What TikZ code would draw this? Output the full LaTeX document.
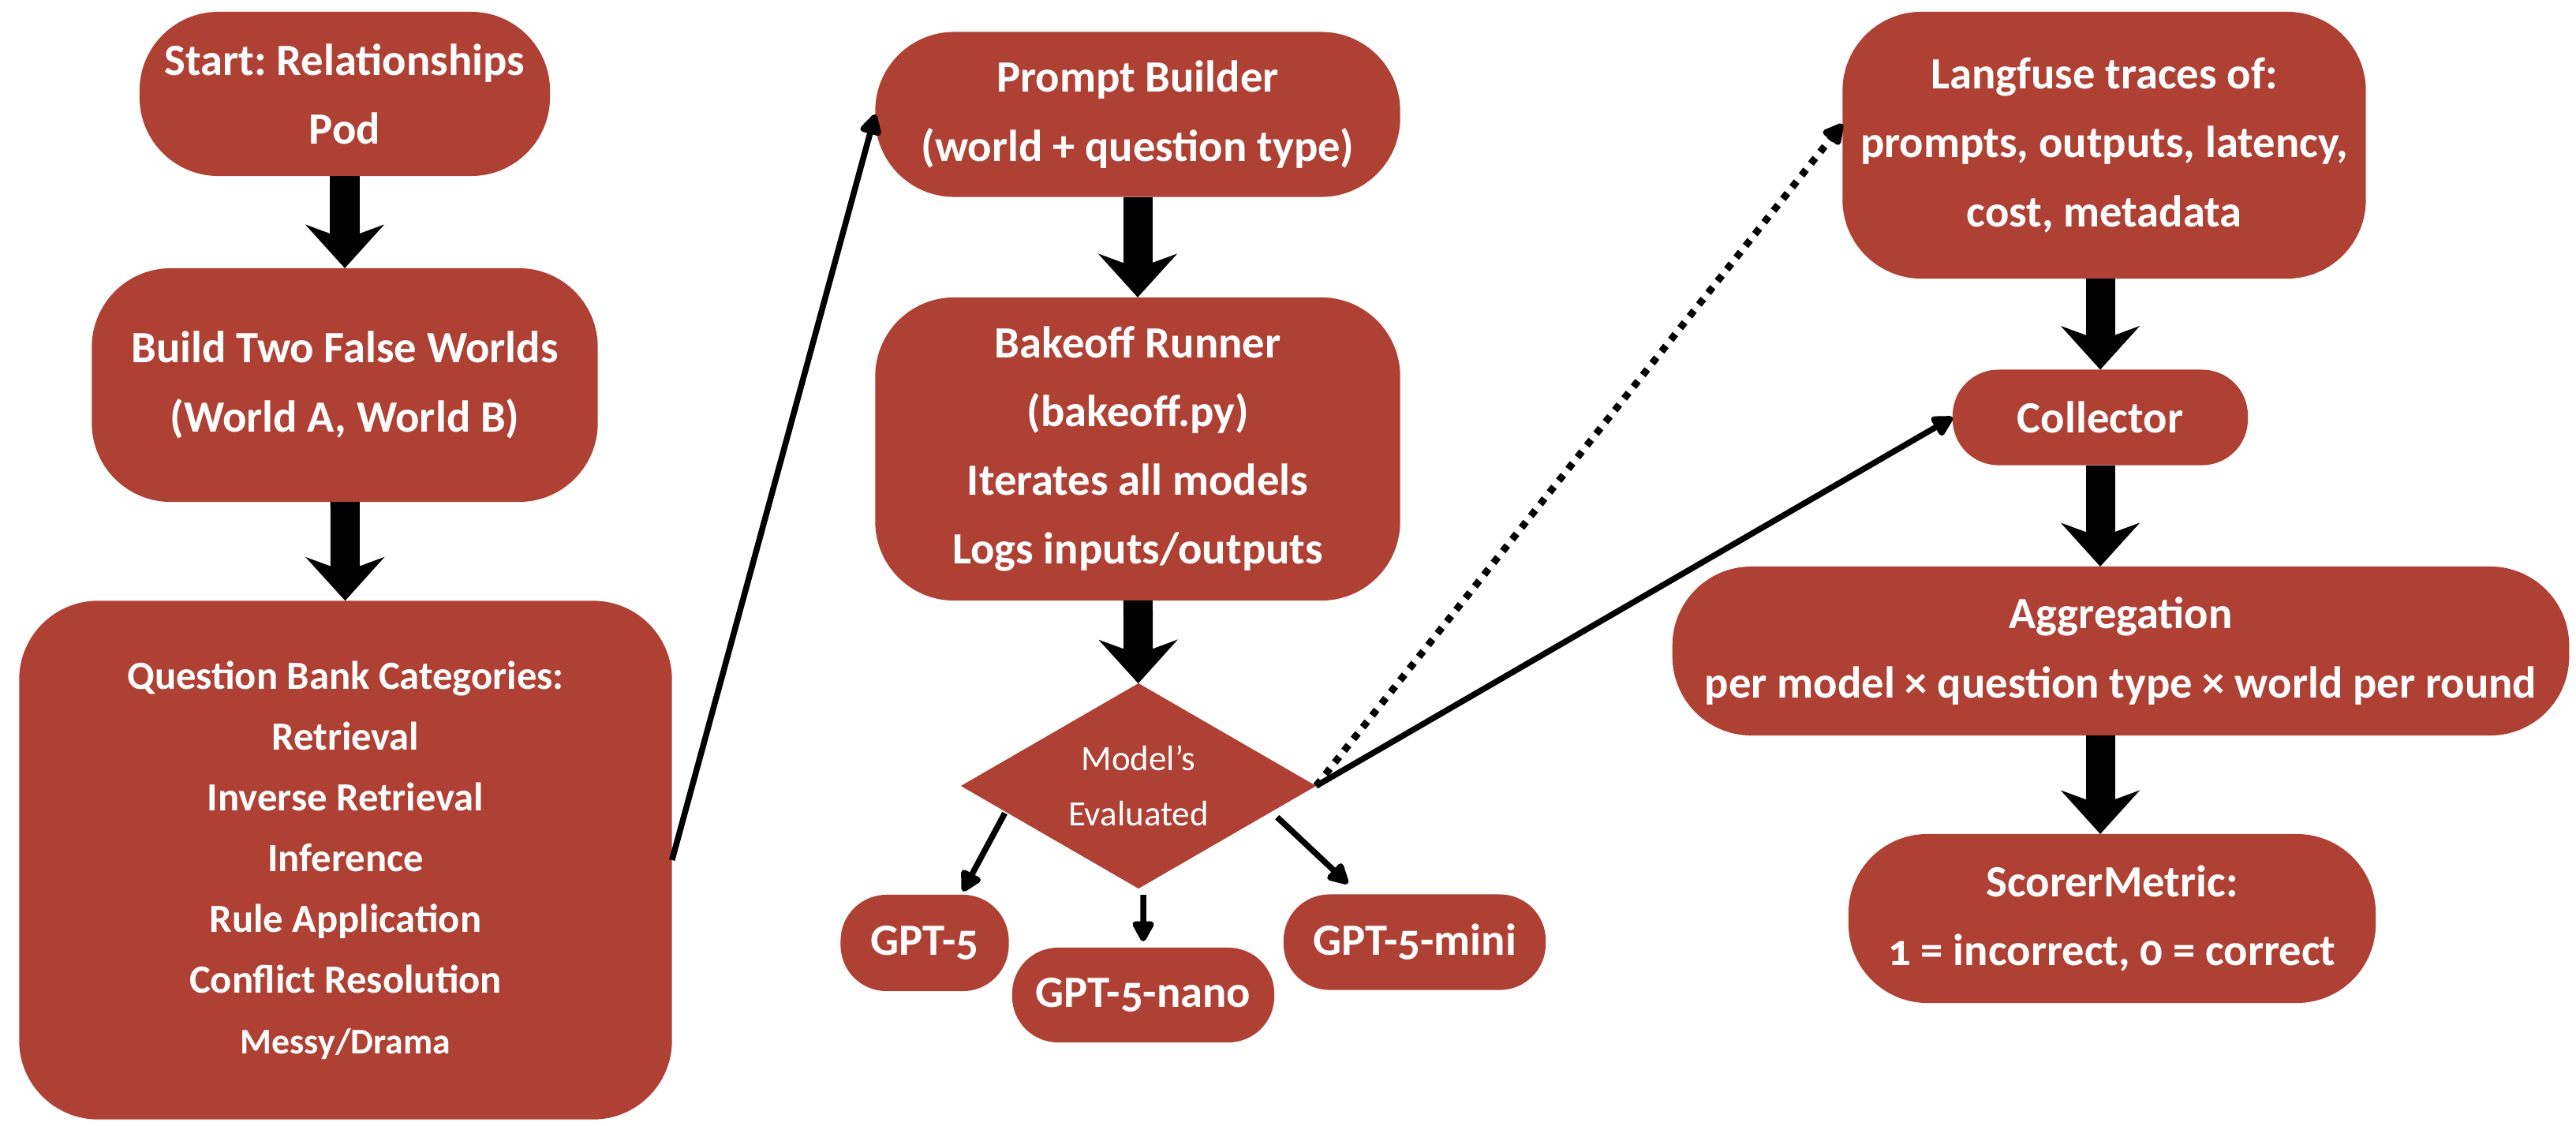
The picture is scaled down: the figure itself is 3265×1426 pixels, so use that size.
\documentclass[tikz,border=0pt]{standalone}
\usepackage{fontspec}
\setmainfont{Carlito}[Numbers=OldStyle]
\usetikzlibrary{arrows.meta,shapes.geometric}
\definecolor{rust}{RGB}{175,64,52}
\frenchspacing

\begin{document}
\begin{tikzpicture}[x=0.01cm,y=-0.01cm]
\tikzset{box/.style = {shape=rectangle,fill=rust,text=white,rounded corners=1cm,align=center,inner sep=0pt,outer sep=0pt,font=\bfseries\fontsize{16.1}{24.8}\selectfont}}
\tikzset{pill/.style = {box,rounded corners=0.58cm}}
\tikzset{decision/.style = {shape=diamond,fill=rust,text=white,align=center,inner sep=0pt,outer sep=0pt,aspect=1.73,minimum width=4.5cm,minimum height=2.6cm,font=\fontsize{12.8}{19.9}\selectfont}}
\tikzset{bigedge/.style = {-{Stealth[length=0.55cm,width=0.99cm,inset=0.18cm]},line width=0.37cm}}
\tikzset{edge/.style = {-{Triangle[length=0.3cm,width=0.3cm,round]},line width=0.075cm}}
\tikzset{dotedge/.style = {edge,line width=0.09cm,dash pattern=on 0.09cm off 0.1cm}}
\useasboundingbox (0,0) rectangle (3265,1426);
% left column
\node[box,minimum width=5.2cm,minimum height=2.08cm] (start) at (437,119) {Start: Relationships\\Pod};
\node[box,minimum width=6.41cm,minimum height=2.96cm] (worlds) at (437,488) {Build Two False Worlds\\(World A, World B)};
\node[box,minimum width=8.27cm,minimum height=6.57cm,font=\bfseries\fontsize{14.4}{21.9}\selectfont] (bank) at (438,1090) {Question Bank Categories:\\Retrieval\\Inverse Retrieval\\Inference\\Rule Application\\Conflict Resolution\\{\fontsize{13}{21.9}\selectfont Messy/Drama}};
% middle column
\node[box,minimum width=6.65cm,minimum height=2.09cm] (prompt) at (1442,145) {Prompt Builder\\(world + question type)};
\node[box,minimum width=6.65cm,minimum height=3.84cm] (runner) at (1442,569) {Bakeoff Runner\\(bakeoff.py)\\Iterates all models\\Logs inputs/outputs};
\node[decision] (models) at (1443,996) {Model's\\Evaluated};
\node[pill,minimum width=2.13cm,minimum height=1.22cm] (gpt5) at (1172,1195) {GPT-5};
\node[pill,minimum width=3.32cm,minimum height=1.2cm] (nano) at (1449,1261) {GPT-5-nano};
\node[pill,minimum width=3.32cm,minimum height=1.21cm] (mini) at (1793,1194) {GPT-5-mini};
% right column
\node[box,minimum width=6.63cm,minimum height=3.38cm] (traces) at (2667,184) {Langfuse traces of:\\prompts, outputs, latency,\\cost, metadata};
\node[pill,minimum width=3.74cm,minimum height=1.21cm] (collector) at (2662,529) {Collector};
\node[box,minimum width=11.36cm,minimum height=2.14cm] (aggregation) at (2688,825) {Aggregation\\per model × question type × world per round};
\node[box,minimum width=6.68cm,minimum height=2.14cm] (scorer) at (2677,1164) {ScorerMetric:\\1 = incorrect, 0 = correct};
% edges
\draw[bigedge] (start) -- (worlds);
\draw[bigedge] (worlds) -- (bank);
\draw[bigedge] (prompt) -- (runner);
\draw[bigedge] (runner) -- (models);
\draw[edge] (bank.east) -- (prompt.west);
\draw[edge,shorten <=0.02cm,shorten >=0.05cm] (models.191) -- (gpt5.53);
\draw[edge,shorten <=0.08cm,shorten >=0.08cm] ([xshift=0.06cm]models.south) -- (nano.north);
\draw[edge,shorten <=0.1cm,shorten >=0.2cm] (models.-11) -- ([xshift=-0.7cm]mini.north);
\draw[edge] (models.east) -- (collector.west);
\draw[dotedge] (models.east) -- ([yshift=0.27cm]traces.west);
\draw[bigedge] (collector.north |- traces.south) -- (collector.north);
\draw[bigedge] (collector.south) -- (collector.south |- aggregation.north);
\draw[bigedge] (collector.south |- aggregation.south) -- (collector.south |- scorer.north);
\end{tikzpicture}
\end{document}
